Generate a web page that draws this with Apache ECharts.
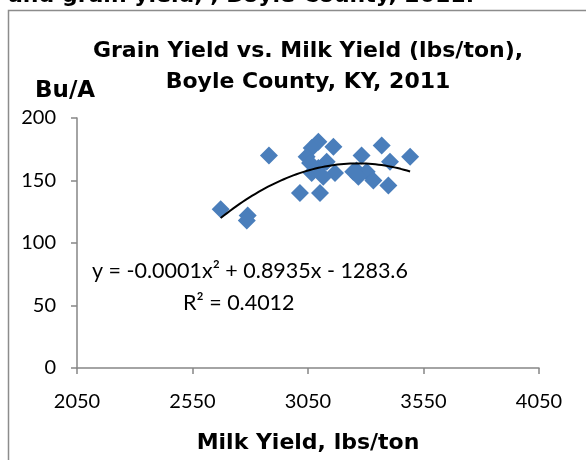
<!DOCTYPE html>
<html>
<head>
<meta charset="utf-8">
<script src="https://cdn.jsdelivr.net/npm/echarts@6/dist/echarts.min.js"></script>
<style>
  html, body { margin: 0; padding: 0; background: #fff; }
  #main { width: 586px; height: 460px; }
</style>
</head>
<body>
<div id="main"></div>
<script>
// milk yield (lbs/ton) and grain yield (Bu/A) per farm
const milkYield = [2672, 2789, 2785, 2881, 3015, 3102, 3095, 3066, 3160, 3044, 3059, 3131, 3095,
  3167, 3066, 3116, 3369, 3492, 3282, 3405, 3260, 3304, 3268, 3333, 3398, 3246]
const grainYield = [127, 122, 118, 170, 140, 140, 181, 176, 177, 169, 164, 165, 160,
  156, 156, 153, 178, 169, 170, 165, 158, 157, 153, 150, 146, 157]
const xTicks = [2050, 2550, 3050, 3550, 4050]
const yTicks = [0, 50, 100, 150, 200]

const font = 'Lato, "DejaVu Sans", sans-serif'
const boldFont = '"DejaVu Sans", Lato, sans-serif'
const points = milkYield.map((x, i) => [x, grainYield[i]])

// 2nd order polynomial least squares (like the Excel trendline)
function polyFit(xs, ys) {
  const m = xs.reduce((a, b) => a + b, 0) / xs.length
  const s = [0, 0, 0, 0, 0], t = [0, 0, 0]
  xs.forEach((x, i) => {
    const u = x - m
    for (let k = 0; k < 5; k++) s[k] += Math.pow(u, k)
    for (let k = 0; k < 3; k++) t[k] += ys[i] * Math.pow(u, k)
  })
  const A = [[s[0], s[1], s[2], t[0]], [s[1], s[2], s[3], t[1]], [s[2], s[3], s[4], t[2]]]
  for (let c = 0; c < 3; c++) {
    for (let r = c + 1; r < 3; r++) {
      const f = A[r][c] / A[c][c]
      for (let k = c; k < 4; k++) A[r][k] -= f * A[c][k]
    }
  }
  const p = [0, 0, 0]
  for (let r = 2; r >= 0; r--) {
    let v = A[r][3]
    for (let k = r + 1; k < 3; k++) v -= A[r][k] * p[k]
    p[r] = v / A[r][r]
  }
  return x => p[0] + p[1] * (x - m) + p[2] * (x - m) * (x - m)
}

const fit = polyFit(milkYield, grainYield)
const xMin = Math.min(...milkYield), xMax = Math.max(...milkYield)
const trend = []
for (let i = 0; i <= 60; i++) {
  const x = xMin + (xMax - xMin) * i / 60
  trend.push([x, fit(x)])
}

const myChart = echarts.init(document.getElementById('main'))
const option = {
  animation: false,
  textStyle: { fontFamily: font },
  title: {
    text: 'Grain Yield vs. Milk Yield (lbs/ton),\nBoyle County, KY, 2011',
    left: 303,
    textAlign: 'center',
    top: 31,
    textStyle: { fontSize: 22, fontWeight: 'bold', color: '#000', lineHeight: 31, fontFamily: boldFont }
  },
  graphic: [
    {
      type: 'rect',
      shape: { x: 8.5, y: 10.5, width: 620, height: 500 },
      style: { fill: null, stroke: '#8c8c8c', lineWidth: 1.5 }
    },
    {
      type: 'text',
      left: 8,
      top: -15,
      style: { text: 'and grain yield, , Boyle County, 2011.', font: 'bold 22px ' + boldFont, fill: '#000' }
    },
    {
      type: 'text',
      left: 35,
      top: 80,
      style: { text: 'Bu/A', font: 'bold 23px ' + boldFont, fill: '#000' }
    },
    {
      type: 'text',
      left: 92,
      top: 260,
      style: { text: 'y = -0.0001x² + 0.8935x - 1283.6', font: '21.5px ' + font, fill: '#000' }
    },
    {
      type: 'text',
      left: 183,
      top: 292,
      style: { text: 'R² = 0.4012', font: '21.5px ' + font, fill: '#000' }
    }
  ],
  grid: { left: 77, right: 47, top: 118, bottom: 92 },
  xAxis: {
    type: 'value',
    min: xTicks[0],
    max: xTicks[xTicks.length - 1],
    interval: 500,
    name: 'Milk Yield, lbs/ton',
    nameLocation: 'middle',
    nameGap: 64,
    nameTextStyle: { fontSize: 22, fontWeight: 'bold', color: '#000', fontFamily: boldFont },
    axisLine: { onZero: false, lineStyle: { color: '#868686', width: 1.5 } },
    axisTick: { show: true, length: 6, lineStyle: { color: '#868686', width: 1.5 } },
    axisLabel: { fontSize: 20, color: '#000', margin: 24, formatter: v => String(v) },
    splitLine: { show: false }
  },
  yAxis: {
    type: 'value',
    min: yTicks[0],
    max: yTicks[yTicks.length - 1],
    interval: 50,
    axisLine: { show: true, lineStyle: { color: '#868686', width: 1.5 } },
    axisTick: { show: true, length: 6, lineStyle: { color: '#868686', width: 1.5 } },
    axisLabel: { fontSize: 20, color: '#000', margin: 21 },
    splitLine: { show: false }
  },
  series: [
    {
      type: 'scatter',
      data: points,
      symbol: 'diamond',
      symbolSize: 18,
      itemStyle: { color: '#4a7ebb', opacity: 1 }
    },
    {
      type: 'line',
      data: trend,
      showSymbol: false,
      smooth: false,
      lineStyle: { color: '#000', width: 2 },
      z: 3
    }
  ]
}
myChart.setOption(option)
</script>
</body>
</html>
